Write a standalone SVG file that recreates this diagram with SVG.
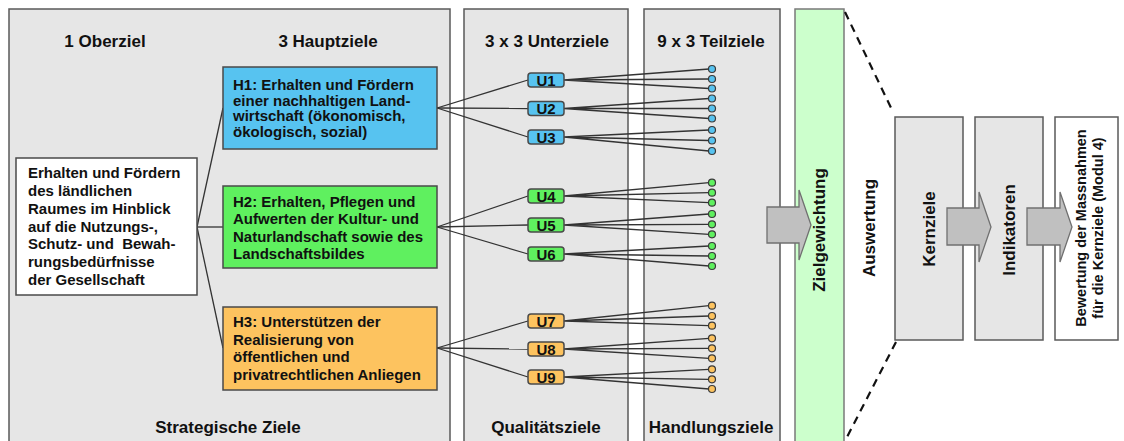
<svg xmlns="http://www.w3.org/2000/svg" width="1124" height="441" viewBox="0 0 1124 441">
<style>
text{font-family:"Liberation Sans",Arial,sans-serif;font-weight:bold;fill:#111}
.head{font-size:17px;text-anchor:middle}
.body{font-size:15px}
.u{font-size:15px;text-anchor:middle}
.panel{fill:#e6e6e6;stroke:#5a5a5a;stroke-width:1.5}
.box{stroke:#4a4a4a;stroke-width:1.5}
.blue{fill:#57c3f0}
.green{fill:#5ff05f}
.orange{fill:#fdc35f}
.con line,.con path{stroke:#333;stroke-width:1.3;fill:none}
.con .dash{stroke:#111;stroke-width:2.2;stroke-dasharray:8,6;fill:none}
.arrow{fill:#c0c0c0;stroke:#707070;stroke-width:1.3}
.c{stroke:#3a3a3a;stroke-width:1.2}
</style>
<rect width="1124" height="441" fill="#fff"/>

<!-- panels -->
<g id="panel-strategisch">
<rect class="panel" x="9" y="9" width="441" height="440"/>
<text class="head" x="105" y="47">1 Oberziel</text>
<text class="head" x="328" y="47">3 Hauptziele</text>
<text class="head" x="228" y="433">Strategische Ziele</text>
</g>
<g id="panel-qualitaet">
<rect class="panel" x="464" y="9" width="164" height="440"/>
<text class="head" x="547" y="47">3 x 3 Unterziele</text>
<text class="head" x="546" y="433">Qualitätsziele</text>
</g>
<g id="panel-handlung">
<rect class="panel" x="644" y="9" width="136" height="440"/>
<text class="head" x="711" y="47">9 x 3 Teilziele</text>
<text class="head" x="711" y="433">Handlungsziele</text>
</g>
<g id="zielgewichtung">
<rect x="795" y="9" width="49" height="440" fill="#ccffcc" stroke="#7a7a7a" stroke-width="1.5"/>
<text class="head" transform="translate(825,230) rotate(-90)">Zielgewichtung</text>
</g>

<!-- connectors -->
<g id="connectors" class="con">
<line x1="197" y1="227" x2="223" y2="108"/>
<line x1="197" y1="227" x2="223" y2="227"/>
<line x1="197" y1="227" x2="223" y2="348"/>

<line x1="437" y1="108" x2="528" y2="80"/>
<line x1="437" y1="108" x2="528" y2="108.5"/>
<line x1="437" y1="108" x2="528" y2="137"/>
<line x1="437" y1="227" x2="528" y2="196"/>
<line x1="437" y1="227" x2="528" y2="225"/>
<line x1="437" y1="227" x2="528" y2="254"/>
<line x1="437" y1="348" x2="528" y2="321"/>
<line x1="437" y1="348" x2="528" y2="349"/>
<line x1="437" y1="348" x2="528" y2="377"/>

<path d="M564,80 L709,69 M564,80 L709,79 M564,80 L709,88.5"/>
<path d="M564,108.5 L709,98.5 M564,108.5 L709,108.5 M564,108.5 L709,118.5"/>
<path d="M564,137 L709,130 M564,137 L709,140.5 M564,137 L709,151"/>
<path d="M564,196 L709,182.7 M564,196 L709,192.7 M564,196 L709,202.7"/>
<path d="M564,225 L709,214 M564,225 L709,224.3 M564,225 L709,234.3"/>
<path d="M564,254 L709,246 M564,254 L709,256 M564,254 L709,266"/>
<path d="M564,321 L709,305.7 M564,321 L709,316 M564,321 L709,325.7"/>
<path d="M564,349 L709,338.3 M564,349 L709,348.3 M564,349 L709,358.3"/>
<path d="M564,377 L709,369.3 M564,377 L709,379.3 M564,377 L709,389"/>

<line class="dash" x1="845" y1="12" x2="893" y2="112"/>
<line class="dash" x1="896" y1="342" x2="845" y2="441"/>
</g>

<!-- Oberziel -->
<g id="oberziel">
<rect x="16" y="158" width="181" height="137" fill="#fff" class="box"/>
<text class="body" x="28" y="178">Erhalten und Fördern</text>
<text class="body" x="28" y="196">des ländlichen</text>
<text class="body" x="28" y="214">Raumes im Hinblick</text>
<text class="body" x="28" y="232">auf die Nutzungs-,</text>
<text class="body" x="28" y="249" xml:space="preserve">Schutz- und  Bewah-</text>
<text class="body" x="28" y="267">rungsbedürfnisse</text>
<text class="body" x="28" y="285">der Gesellschaft</text>
</g>

<!-- Hauptziele -->
<g id="H1">
<rect class="box blue" x="223" y="67" width="214" height="82"/>
<text class="body" x="233" y="90">H1: Erhalten und Fördern</text>
<text class="body" x="233" y="105.5">einer nachhaltigen Land-</text>
<text class="body" x="233" y="121">wirtschaft (ökonomisch,</text>
<text class="body" x="233" y="136.5">ökologisch, sozial)</text>
</g>
<g id="H2">
<rect class="box green" x="223" y="186" width="214" height="82"/>
<text class="body" x="233" y="206.5">H2: Erhalten, Pflegen und</text>
<text class="body" x="233" y="224">Aufwerten der Kultur- und</text>
<text class="body" x="233" y="241.5">Naturlandschaft sowie des</text>
<text class="body" x="233" y="259">Landschaftsbildes</text>
</g>
<g id="H3">
<rect class="box orange" x="223" y="307" width="214" height="83"/>
<text class="body" x="233" y="327">H3: Unterstützen der</text>
<text class="body" x="233" y="344.5">Realisierung von</text>
<text class="body" x="233" y="362">öffentlichen und</text>
<text class="body" x="233" y="379.5">privatrechtlichen Anliegen</text>
</g>

<!-- Unterziele -->
<g id="U1"><rect class="box blue" x="528" y="73" width="36" height="14" rx="3"/><text class="u" x="546" y="85.5">U1</text></g>
<g id="U2"><rect class="box blue" x="528" y="101.5" width="36" height="14" rx="3"/><text class="u" x="546" y="114">U2</text></g>
<g id="U3"><rect class="box blue" x="528" y="130" width="36" height="14" rx="3"/><text class="u" x="546" y="142.5">U3</text></g>
<g id="U4"><rect class="box green" x="528" y="189" width="36" height="14" rx="3"/><text class="u" x="546" y="201.5">U4</text></g>
<g id="U5"><rect class="box green" x="528" y="218" width="36" height="14" rx="3"/><text class="u" x="546" y="230.5">U5</text></g>
<g id="U6"><rect class="box green" x="528" y="247" width="36" height="14" rx="3"/><text class="u" x="546" y="259.5">U6</text></g>
<g id="U7"><rect class="box orange" x="528" y="314" width="36" height="14" rx="3"/><text class="u" x="546" y="326.5">U7</text></g>
<g id="U8"><rect class="box orange" x="528" y="342" width="36" height="14" rx="3"/><text class="u" x="546" y="354.5">U8</text></g>
<g id="U9"><rect class="box orange" x="528" y="370" width="36" height="14" rx="3"/><text class="u" x="546" y="382.5">U9</text></g>

<!-- Teilziele -->
<g id="teilziele-blue" class="c blue">
<circle cx="712" cy="69" r="3.5"/><circle cx="712" cy="79" r="3.5"/><circle cx="712" cy="88.5" r="3.5"/>
<circle cx="712" cy="98.5" r="3.5"/><circle cx="712" cy="108.5" r="3.5"/><circle cx="712" cy="118.5" r="3.5"/>
<circle cx="712" cy="130" r="3.5"/><circle cx="712" cy="140.5" r="3.5"/><circle cx="712" cy="151" r="3.5"/>
</g>
<g id="teilziele-green" class="c green">
<circle cx="712" cy="182.7" r="3.5"/><circle cx="712" cy="192.7" r="3.5"/><circle cx="712" cy="202.7" r="3.5"/>
<circle cx="712" cy="214" r="3.5"/><circle cx="712" cy="224.3" r="3.5"/><circle cx="712" cy="234.3" r="3.5"/>
<circle cx="712" cy="246" r="3.5"/><circle cx="712" cy="256" r="3.5"/><circle cx="712" cy="266" r="3.5"/>
</g>
<g id="teilziele-orange" class="c orange">
<circle cx="712" cy="305.7" r="3.5"/><circle cx="712" cy="316" r="3.5"/><circle cx="712" cy="325.7" r="3.5"/>
<circle cx="712" cy="338.3" r="3.5"/><circle cx="712" cy="348.3" r="3.5"/><circle cx="712" cy="358.3" r="3.5"/>
<circle cx="712" cy="369.3" r="3.5"/><circle cx="712" cy="379.3" r="3.5"/><circle cx="712" cy="389" r="3.5"/>
</g>

<!-- Auswertung -->
<g id="auswertung">
<text class="head" transform="translate(875,228) rotate(-90)">Auswertung</text>
</g>
<g id="kernziele">
<rect class="panel" x="895" y="117" width="68" height="223"/>
<text class="head" transform="translate(935,229) rotate(-90)">Kernziele</text>
</g>
<g id="indikatoren">
<rect class="panel" x="975" y="117" width="68" height="223"/>
<text class="head" transform="translate(1015,230) rotate(-90)">Indikatoren</text>
</g>
<g id="bewertung">
<rect x="1055" y="117" width="63" height="223" fill="#fff" stroke="#5a5a5a" stroke-width="1.5"/>
<text font-size="14.5" text-anchor="middle" transform="translate(1086,228) rotate(-90)">Bewertung der Massnahmen</text>
<text font-size="14.5" text-anchor="middle" transform="translate(1103,228) rotate(-90)">für die Kernziele (Modul 4)</text>
</g>

<!-- block arrows -->
<g id="arrows">
<path class="arrow" d="M767,207 H799 V190 L811,225 L799,260 V243 H767 Z"/>
<path class="arrow" d="M947,208 H979 V192 L991,227 L979,262 V245 H947 Z"/>
<path class="arrow" d="M1027,208 H1060 V192 L1072,227 L1060,262 V245 H1027 Z"/>
</g>
</svg>
